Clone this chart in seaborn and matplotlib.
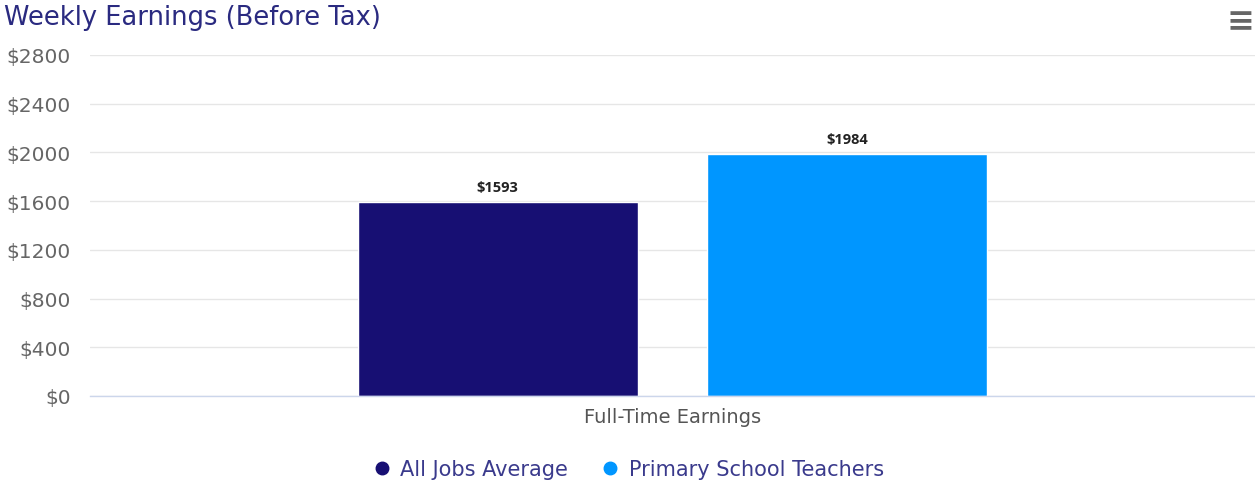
import pandas as pd
import matplotlib
matplotlib.use('Agg')
import matplotlib.pyplot as plt
import seaborn as sns
from matplotlib.lines import Line2D

# data
categories = ["Full-Time Earnings"]
series_names = ["All Jobs Average", "Primary School Teachers"]
series_values = [1593, 1984]
y_ticks = [0, 400, 800, 1200, 1600, 2000, 2400, 2800]

colors = ["#170f73", "#0096ff"]

df = pd.DataFrame({
    "category": categories * len(series_names),
    "series": series_names,
    "value": series_values,
})

sns.set_style("white")
plt.rcParams['font.family'] = ['DejaVu Sans']

fig = plt.figure(figsize=(12.55, 4.81), dpi=100)
ax = fig.add_axes([90 / 1255, 84 / 481, 1165 / 1255, 341 / 481])

sns.barplot(data=df, x="category", y="value", hue="series", palette=colors,
            width=0.6, gap=0.2, saturation=1, legend=False, ax=ax)

ax.set_ylim(0, 2800)
ax.set_xlim(-0.5, 0.5)
ax.set_yticks(y_ticks)
ax.set_yticklabels([f"${v}" for v in y_ticks], color="#666666", fontsize=14.5)
ax.tick_params(axis="y", length=0, pad=14)
ax.tick_params(axis="x", length=0, pad=8, labelsize=14, labelcolor="#555555")
ax.set_xlabel("")
ax.set_ylabel("")
ax.yaxis.grid(True, color="#e6e6e6", linewidth=1)
ax.set_axisbelow(True)
for s in ["top", "right", "left"]:
    ax.spines[s].set_visible(False)
ax.spines["bottom"].set_color("#ccd6eb")
ax.spines["bottom"].set_linewidth(1)

for cont in ax.containers:
    ax.bar_label(cont, labels=[f"${int(v)}" for v in cont.datavalues],
                 padding=6, fontsize=10.5, fontweight="bold", color="#222222",
                 family="Open Sans")

fig.text(4 / 1255, 1 - 18 / 481, "Weekly Earnings (Before Tax)", fontsize=18.5,
         color="#2a2a80", va="center", ha="left")
fig.text(1240 / 1255, 1 - 22 / 481, "≡", fontsize=24, color="#666666",
         va="center", ha="center", fontweight="bold")

handles = [Line2D([0], [0], marker="o", linestyle="", markersize=9,
                  markerfacecolor=c, markeredgecolor=c) for c in colors]
fig.legend(handles, series_names, loc="center", bbox_to_anchor=(0.5, 1 - 470 / 481),
           ncol=2, frameon=False, labelcolor="#3a3a8c",
           prop={"size": 15},
           handletextpad=0.4, columnspacing=1.5, handlelength=1)

fig.savefig("out.png", dpi=100)
